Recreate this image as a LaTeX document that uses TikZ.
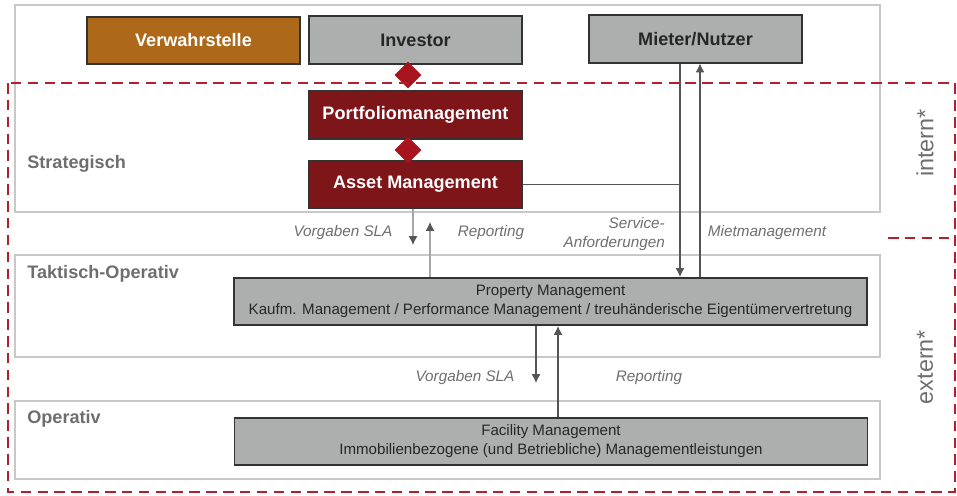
\documentclass[tikz,border=0pt]{standalone}
\usepackage{fontspec}
\setmainfont{Liberation Sans}
\usepackage{xcolor}
\usetikzlibrary{arrows.meta,shapes}

\definecolor{darkred}{HTML}{7E1519}
\definecolor{rhombred}{HTML}{A8141E}
\definecolor{dashred}{HTML}{B2202E}
\definecolor{brown}{HTML}{AD6819}
\definecolor{boxgray}{HTML}{ADAFAE}
\definecolor{boxline}{HTML}{333333}
\definecolor{framegray}{HTML}{C8C8C8}
\definecolor{labelgray}{HTML}{6E6E6E}
\definecolor{textdark}{HTML}{262626}
\definecolor{arrowgray}{HTML}{555555}

\begin{document}
\begin{tikzpicture}[>={Latex[length=5pt,width=5pt]}, x=0.02cm, y=-0.02cm]
 \tikzstyle{box}=     [draw=boxline, line width=0.9pt, inner sep=0pt, minimum height=0.95cm]
 \tikzstyle{topbox}=  [box, minimum width=4.26cm, font=\bfseries\fontsize{10.3}{12}\selectfont]
 \tikzstyle{wide}=    [box, fill=boxgray, minimum width=12.66cm, align=center, text=textdark, font=\fontsize{8.6}{10.8}\selectfont]
 \tikzstyle{rhomb}=   [diamond, fill=rhombred, inner sep=0pt, minimum width=0.54cm, minimum height=0.54cm]
 \tikzstyle{level}=   [anchor=west, inner sep=0pt, text=labelgray, font=\bfseries\fontsize{10.3}{12}\selectfont]
 \tikzstyle{flow}=    [text=labelgray, font=\itshape\fontsize{8.7}{10.5}\selectfont]
 \tikzstyle{side}=    [rotate=90, text=labelgray, font=\fontsize{13.3}{15}\selectfont]
 \tikzstyle{frame}=   [draw=framegray, line width=0.7pt]

 \useasboundingbox (0,0) rectangle (957,495);

 % level frames
 \draw [frame] (15,5) rectangle (880,212);
 \draw [frame] (15,255) rectangle (880,357);
 \draw [frame] (15,401) rectangle (880,479);

 \node (strat) at (27,164) [level] {Strategisch};
 \node (takt) at (27,274) [level] {Taktisch-Operativ};
 \node (oper) at (27,419) [level] {Operativ};

 % boxes
 \node (verw) at (193.5,40.5) [topbox, fill=brown, text=white] {Verwahrstelle};
 \node (inv) at (415.5,40) [topbox, fill=boxgray, text=textdark] {Investor};
 \node (mieter) at (695.5,39) [topbox, fill=boxgray, text=textdark] {Mieter/Nutzer};
 \node (pf) at (415.5,115) [topbox, fill=darkred, text=white] {Portfoliomanagement};
 \node (am) at (415.5,184.5) [topbox, fill=darkred, text=white] {Asset Management};
 \node (pm) at (550.5,301.5) [wide] {Property Management\\Kaufm. Management / Performance Management / treuh\"anderische Eigent\"umervertretung};
 \node (fm) at (551,441.5) [wide] {Facility Management\\Immobilienbezogene (und Betriebliche) Managementleistungen};

 \node (d1) at (408,75) [rhomb] {};
 \node (d2) at (408,150) [rhomb] {};

 % x positions of the connectors
 \coordinate (xa) at (680,0);
 \coordinate (xb) at (700,0);
 \coordinate (xc) at (413,0);
 \coordinate (xd) at (430,0);
 \coordinate (xe) at (536,0);
 \coordinate (xf) at (558,0);
 \coordinate (sla1) at (413,245);
 \coordinate (rep1) at (430,222);
 \coordinate (sla2) at (536,383);

 \draw [->, draw=arrowgray, line width=0.6pt] (mieter.south -| xa) to (pm.north -| xa);
 \draw [draw=arrowgray, line width=0.6pt] (am.east) to (am.east -| xa);
 \draw [->, draw=arrowgray, line width=0.6pt] (pm.north -| xb) to (mieter.south -| xb);
 \draw [draw=gray!70, line width=0.6pt, arrows={-{Latex[length=5pt,width=5pt,color=arrowgray]}}] (am.south -| xc) to (sla1);
 \draw [draw=gray!70, line width=0.6pt, arrows={-{Latex[length=5pt,width=5pt,color=arrowgray]}}] (pm.north -| xd) to (rep1);
 \draw [->, draw=arrowgray, line width=0.6pt] (pm.south -| xe) to (sla2);
 \draw [->, draw=arrowgray, line width=0.6pt] (fm.north -| xf) to (pm.south -| xf);

 \node (l1) at (343,233) [flow] {Vorgaben SLA};
 \node (l2) at (491,233) [flow] {Reporting};
 \node (l3) at (671,234) [flow, anchor=east, align=right] {Service-\\Anforderungen};
 \node (l4) at (767,233) [flow] {Mietmanagement};
 \node (l5) at (465,378) [flow] {Vorgaben SLA};
 \node (l6) at (649,378) [flow] {Reporting};

 % intern / extern
 \draw [dashred, dash pattern=on 6pt off 3.6pt, line width=1.4pt] (8,83) rectangle (955,492);
 \draw [dashred, dash pattern=on 6pt off 3.6pt, line width=1.4pt] (888,238) -- (955,238);
 \node (intern) at (925,143) [side] {intern*};
 \node (extern) at (925,367) [side] {extern*};

\end{tikzpicture}
\end{document}
